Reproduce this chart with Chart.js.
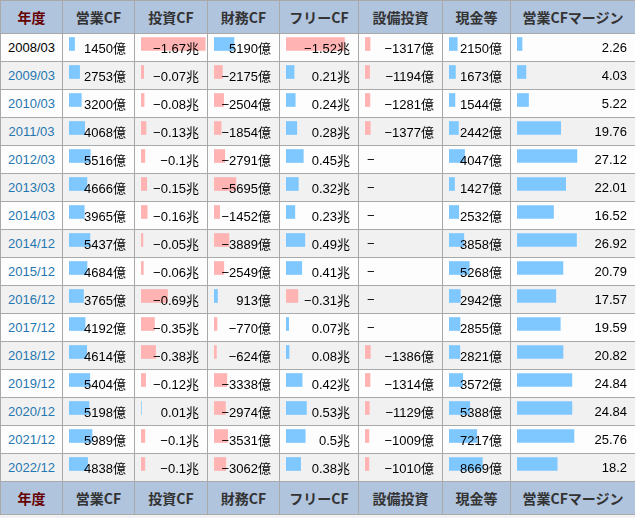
<!DOCTYPE html>
<html>
<head>
<meta charset="utf-8">
<script src="https://cdn.jsdelivr.net/npm/chart.js@4"></script>
<style>
html, body { margin: 0; padding: 0; background: #f2f2f2; }
#wrap { position: relative; width: 635px; }
table { border-collapse: collapse; table-layout: fixed; width: 635px;
  font-family: "Liberation Sans", "Noto Sans CJK JP", sans-serif; font-size: 13px; color: #000; }
td, th { border: 1px solid #a9a9a9; padding: 0 8px 0 6px; overflow: hidden; white-space: nowrap; }
th { background: #b0c4de; color: #333; font-weight: bold; font-size: 14px; height: 32px; text-align: center;
  font-family: "Noto Sans CJK JP", sans-serif; padding: 0; }
th.nen { color: #660000; }
tbody tr { height: 28px; }
tbody tr:nth-child(odd) td { background: #fdfdfd; }
tbody tr:nth-child(even) td { background: #f1f1f1; }
td { text-align: right; }
td.yr { text-align: center; color: #2577b0; padding: 0; }
td.yr.first { color: #000; }
td.dash { text-align: left; padding-left: 8px; }
td span { position: relative; z-index: 2; }
canvas.bars { position: absolute; z-index: 1; }
</style>
</head>
<body>
<div id="wrap">
<table id="tbl">
  <colgroup>
    <col style="width:62px"><col style="width:72px"><col style="width:73px"><col style="width:72px">
    <col style="width:79px"><col style="width:84px"><col style="width:68px"><col style="width:125px">
  </colgroup>
  <thead><tr id="head"></tr></thead>
  <tbody id="body"></tbody>
  <tfoot><tr id="foot"></tr></tfoot>
</table>
</div>
<script>
const headers = ["年度", "営業CF", "投資CF", "財務CF", "フリーCF", "設備投資", "現金等", "営業CFマージン"];
const years = ["2008/03", "2009/03", "2010/03", "2011/03", "2012/03", "2013/03", "2014/03", "2014/12",
  "2015/12", "2016/12", "2017/12", "2018/12", "2019/12", "2020/12", "2021/12", "2022/12"];

// 億
const opCF = [1450, 2753, 3200, 4068, 5516, 4666, 3965, 5437, 4684, 3765, 4192, 4614, 5404, 5198, 5989, 4838];
// 兆
const invCF = [-1.67, -0.07, -0.08, -0.13, -0.1, -0.15, -0.16, -0.05, -0.06, -0.69, -0.35, -0.38, -0.12, 0.01, -0.1, -0.1];
// 億
const finCF = [5190, -2175, -2504, -1854, -2791, -5695, -1452, -3889, -2549, 913, -770, -624, -3338, -2974, -3531, -3062];
// 兆
const freeCF = [-1.52, 0.21, 0.24, 0.28, 0.45, 0.32, 0.23, 0.49, 0.41, -0.31, 0.07, 0.08, 0.42, 0.53, 0.5, 0.38];
// 億 (null = "-")
const capex = [-1317, -1194, -1281, -1377, null, null, null, null, null, null, null, -1386, -1314, -1129, -1009, -1010];
// 億
const cash = [2150, 1673, 1544, 2442, 4047, 1427, 2532, 3858, 5268, 2942, 2855, 2821, 3572, 5388, 7217, 8669];
// %
const margin = [2.26, 4.03, 5.22, 19.76, 27.12, 22.01, 16.52, 26.92, 20.79, 17.57, 19.59, 20.82, 24.84, 24.84, 25.76, 18.2];

const BLUE = "#7fc8ff";
const PINK = "#ffb3b3";

// px per unit
const PX_OKU = 1 / 260;
const PX_CHO = 10000 / 260;
const PX_PCT = 2.21;

const columns = [
  { data: opCF, unit: "億", px: PX_OKU },
  { data: invCF, unit: "兆", px: PX_CHO },
  { data: finCF, unit: "億", px: PX_OKU },
  { data: freeCF, unit: "兆", px: PX_CHO },
  { data: capex, unit: "億", px: PX_OKU },
  { data: cash, unit: "億", px: PX_OKU },
  { data: margin, unit: "", px: PX_PCT }
];

function fmt(v, unit) {
  if (v === null) return "\u2212";
  return (v < 0 ? "\u2212" + Math.abs(v) : String(v)) + unit;
}

const head = document.getElementById("head");
const foot = document.getElementById("foot");
headers.forEach((h, i) => {
  head.innerHTML += `<th class="${i === 0 ? "nen" : ""}">${h}</th>`;
  foot.innerHTML += `<th class="${i === 0 ? "nen" : ""}">${h}</th>`;
});

const tbody = document.getElementById("body");
years.forEach((y, r) => {
  let row = `<td class="yr${r === 0 ? " first" : ""}"><span>${y}</span></td>`;
  columns.forEach(c => {
    const v = c.data[r];
    row += `<td class="${v === null ? "dash" : ""}"><span>${fmt(v, c.unit)}</span></td>`;
  });
  tbody.innerHTML += `<tr>${row}</tr>`;
});

const wrap = document.getElementById("wrap");
const rows = tbody.querySelectorAll("tr");
const wrapBox = wrap.getBoundingClientRect();
const firstBox = rows[0].getBoundingClientRect();
const lastBox = rows[rows.length - 1].getBoundingClientRect();

columns.forEach((c, i) => {
  const cell = rows[0].children[i + 1].getBoundingClientRect();
  const w = Math.round(cell.width - 8);
  const h = Math.round(lastBox.bottom - firstBox.top);

  const cv = document.createElement("canvas");
  cv.className = "bars";
  cv.width = w;
  cv.height = h;
  cv.style.width = w + "px";
  cv.style.height = h + "px";
  cv.style.left = (cell.left - wrapBox.left + 6) + "px";
  cv.style.top = (firstBox.top - wrapBox.top - 3.5) + "px";
  wrap.appendChild(cv);

  new Chart(cv, {
    type: "bar",
    data: {
      labels: years,
      datasets: [{
        data: c.data.map(v => v === null ? null : Math.abs(v)),
        backgroundColor: c.data.map(v => v !== null && v < 0 ? PINK : BLUE),
        borderWidth: 0,
        barThickness: 13
      }]
    },
    options: {
      indexAxis: "y",
      responsive: false,
      animation: false,
      devicePixelRatio: 1,
      layout: { padding: 0 },
      plugins: { legend: { display: false }, tooltip: { enabled: false } },
      scales: {
        x: { display: false, min: 0, max: w / c.px },
        y: { display: false }
      }
    }
  });
});
</script>
</body>
</html>
